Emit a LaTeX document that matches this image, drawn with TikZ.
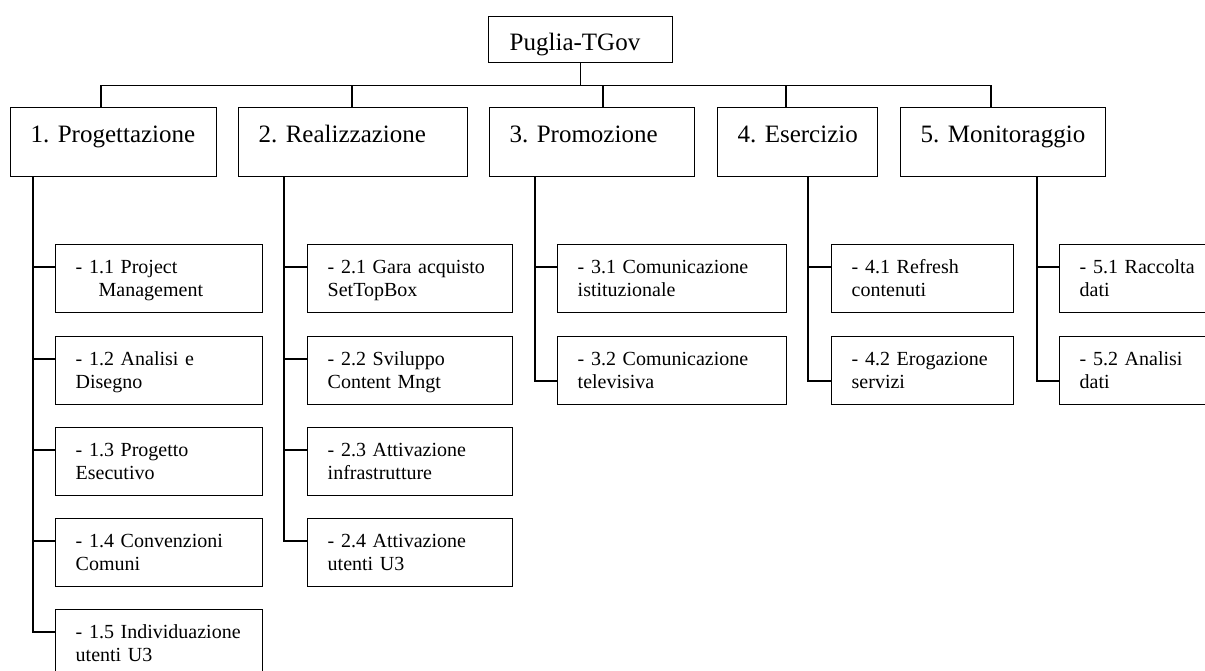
\documentclass[tikz,border=0pt]{standalone}
\usepackage{fontspec}
\setmainfont{Liberation Serif}
\frenchspacing
\begin{document}
\begin{tikzpicture}[x=1pt,y=-1pt,
  line width=1.4pt,
  box/.style={draw, anchor=north west, inner xsep=20pt, inner ysep=0pt, align=left},
  rootbox/.style={box, font=\fontsize{25}{30}\selectfont, text height=34pt, text depth=12pt, inner xsep=21pt},
  phase/.style={box, font=\fontsize{25}{30}\selectfont, text height=35pt, text depth=34pt},
  task/.style={box, font=\fontsize{20}{23}\selectfont, text height=29pt, text depth=39pt}]
\useasboundingbox (0,0) rectangle (1205,670);
\clip (0,0) rectangle (1205,670);

% root
\node[rootbox, text width=142pt] (root) at (488,16) {\mbox{Puglia-TGov}};

% phases
\node[phase, text width=166pt] (p1) at (10,107)  {\mbox{1. Progettazione}};
\node[phase, text width=189pt] (p2) at (238,107) {\mbox{2. Realizzazione}};
\node[phase, text width=165pt] (p3) at (489,107) {\mbox{3. Promozione}};
\node[phase, text width=120pt] (p4) at (717,107) {\mbox{4. Esercizio}};
\node[phase, text width=165pt] (p5) at (900,107) {\mbox{5. Monitoraggio}};

% tasks of phase 1
\node[task, text width=167pt] (c11) at (55,244) {- 1.1 Project\\\hspace*{23pt}Management};
\node[task, text width=167pt] (c12) at (55,336) {- 1.2 Analisi e\\Disegno};
\node[task, text width=167pt] (c13) at (55,427) {- 1.3 Progetto\\Esecutivo};
\node[task, text width=167pt] (c14) at (55,518) {- 1.4 Convenzioni\\Comuni};
\node[task, text width=167pt] (c15) at (55,609) {- 1.5 Individuazione\\utenti U3};

% tasks of phase 2
\node[task, text width=165pt] (c21) at (307,244) {- 2.1 Gara acquisto\\SetTopBox};
\node[task, text width=165pt] (c22) at (307,336) {- 2.2 Sviluppo\\Content Mngt};
\node[task, text width=165pt] (c23) at (307,427) {- 2.3 Attivazione\\infrastrutture};
\node[task, text width=165pt] (c24) at (307,518) {- 2.4 Attivazione\\utenti U3};

% tasks of phase 3
\node[task, text width=189pt] (c31) at (557,244) {- 3.1 Comunicazione\\istituzionale};
\node[task, text width=189pt] (c32) at (557,336) {- 3.2 Comunicazione\\televisiva};

% tasks of phase 4
\node[task, text width=142pt] (c41) at (831,244) {- 4.1 Refresh\\contenuti};
\node[task, text width=142pt] (c42) at (831,336) {- 4.2 Erogazione\\servizi};

% tasks of phase 5
\node[task, text width=165pt] (c51) at (1059,244) {- 5.1 Raccolta\\dati};
\node[task, text width=165pt] (c52) at (1059,336) {- 5.2 Analisi\\dati};

% root to phases
\coordinate (bus) at ([yshift=-22pt]root.south);
\draw (root.south) -- (bus);
\draw (bus) -| ([xshift=91pt]p1.north west);
\draw (bus) -| ([xshift=114pt]p2.north west);
\draw (bus) -| ([xshift=114pt]p3.north west);
\draw (bus) -| ([xshift=69pt]p4.north west);
\draw (bus) -| ([xshift=91pt]p5.north west);

% phases to tasks
\foreach \t in {c11,c12,c13,c14,c15}
  \draw ([xshift=23pt]p1.south west) |- ([yshift=-23pt]\t.north west);
\foreach \t in {c21,c22,c23,c24}
  \draw ([xshift=46pt]p2.south west) |- ([yshift=-23pt]\t.north west);
\draw ([xshift=46pt]p3.south west) |- ([yshift=-23pt]c31.north west);
\draw ([xshift=46pt]p3.south west) |- ([yshift=-45pt]c32.north west);
\draw ([xshift=91pt]p4.south west) |- ([yshift=-23pt]c41.north west);
\draw ([xshift=91pt]p4.south west) |- ([yshift=-45pt]c42.north west);
\draw ([xshift=137pt]p5.south west) |- ([yshift=-23pt]c51.north west);
\draw ([xshift=137pt]p5.south west) |- ([yshift=-45pt]c52.north west);
\end{tikzpicture}
\end{document}
